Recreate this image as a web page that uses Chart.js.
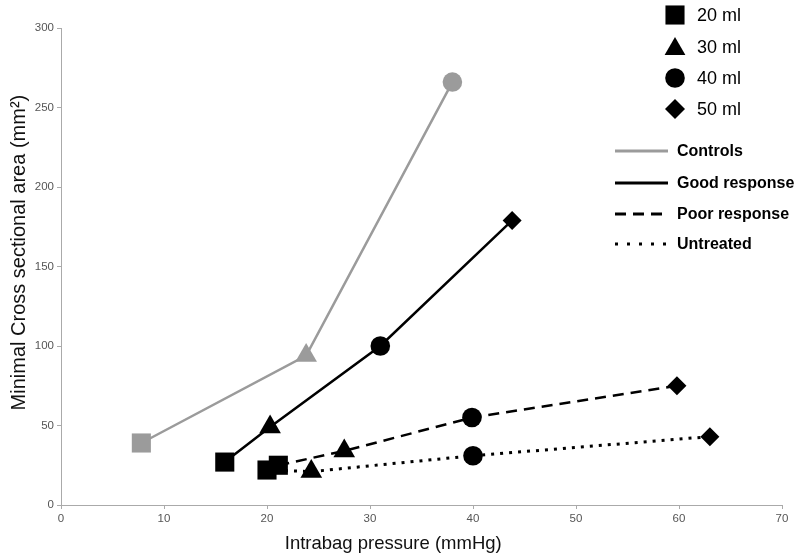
<!DOCTYPE html>
<html>
<head>
<meta charset="utf-8">
<script src="https://cdn.jsdelivr.net/npm/chart.js@4/dist/chart.umd.min.js"></script>
<style>
  body { margin: 0; background: #fff; }
  #wrap { width: 800px; height: 560px; }
</style>
</head>
<body>
<div id="wrap"><canvas id="myChart" width="800" height="560"></canvas></div>
<script>
// volumes (marker shapes) and groups (line styles)
let volumes = ['20 ml', '30 ml', '40 ml', '50 ml']
let markers = ['rect', 'triangle', 'circle', 'rectRot']
let markerSize = [13.5, 12.5, 9.8, 9.5]
let groups = ['Controls', 'Good response', 'Poor response', 'Untreated']

let controlsX = [7.8, 23.8, 38.0]
let controlsY = [39, 94, 266]
let goodX = [15.9, 20.3, 31.0, 43.8]
let goodY = [27, 49, 100, 179]
let poorX = [21.1, 27.5, 39.9, 59.8]
let poorY = [25, 34, 55, 75]
let untreatedX = [20.0, 24.3, 40.0, 63.0]
let untreatedY = [22, 21, 31, 43]

let xTicks = [0, 10, 20, 30, 40, 50, 60, 70]
let yTicks = [0, 50, 100, 150, 200, 250, 300]

const grey = '#9b9b9b'

function pts(xs, ys) {
    return xs.map((x, i) => ({x: x, y: ys[i]}))
}

function group(label, xs, ys, color, dash, width) {
    return {
        label: label,
        data: pts(xs, ys),
        showLine: true,
        borderColor: color,
        backgroundColor: color,
        borderWidth: width,
        borderDash: dash,
        pointStyle: markers.slice(0, xs.length),
        pointRadius: markerSize.slice(0, xs.length),
        pointHoverRadius: markerSize.slice(0, xs.length),
        pointBorderWidth: 0,
        pointBackgroundColor: color
    }
}

// legend drawn inside the plot, top right
const sideLegend = {
    id: 'sideLegend',
    afterDraw(chart) {
        const ctx = chart.ctx
        ctx.save()
        ctx.textBaseline = 'middle'
        ctx.textAlign = 'left'
        let shapeY = [15, 47, 78, 109]
        let legendSize = [13.5, 12, 9.8, 10]
        volumes.forEach((v, i) => {
            ctx.fillStyle = '#000'
            Chart.helpers.drawPoint(ctx, {pointStyle: markers[i], radius: legendSize[i], rotation: 0, borderWidth: 0}, 675, shapeY[i] + (i == 1 ? 2 : 0))
            ctx.font = '18px "Liberation Sans", Arial, sans-serif'
            ctx.fillText(v, 697, shapeY[i] + 1)
        })
        let lineY = [151, 183, 214, 244]
        let styles = [
            {c: grey, d: [], w: 3},
            {c: '#000', d: [], w: 3},
            {c: '#000', d: [11, 7], w: 3},
            {c: '#000', d: [3, 9], w: 3}
        ]
        groups.forEach((g, i) => {
            ctx.beginPath()
            ctx.strokeStyle = styles[i].c
            ctx.lineWidth = styles[i].w
            ctx.setLineDash(styles[i].d)
            ctx.moveTo(615, lineY[i])
            ctx.lineTo(668, lineY[i])
            ctx.stroke()
            ctx.setLineDash([])
            ctx.fillStyle = '#000'
            ctx.font = 'bold 16px "Liberation Sans", Arial, sans-serif'
            ctx.fillText(g, 677, lineY[i] + 1)
        })
        ctx.restore()
    }
}

var chart = new Chart('myChart', {
    type: 'scatter',
    data: {
        datasets: [
            group('Controls', controlsX, controlsY, grey, [], 2.5),
            group('Good response', goodX, goodY, '#000', [], 2.5),
            group('Poor response', poorX, poorY, '#000', [11, 7], 2.5),
            group('Untreated', untreatedX, untreatedY, '#000', [3, 6], 3)
        ]
    },
    options: {
        responsive: false,
        animation: false,
        layout: {padding: {top: 28, right: 18, left: 0, bottom: 0}},
        plugins: {
            legend: {display: false},
            tooltip: {enabled: false}
        },
        scales: {
            x: {
                type: 'linear',
                min: 0,
                max: 70,
                afterBuildTicks: (s) => { s.ticks = xTicks.map(v => ({value: v})) },
                afterFit: (s) => { s.height = 55 },
                grid: {drawOnChartArea: false, drawTicks: true, tickLength: 4, color: '#aaa'},
                border: {color: '#aaa'},
                ticks: {color: '#555', padding: 3, font: {size: 11.5, family: '"Liberation Sans Narrow", "Liberation Sans", Arial'}},
                // trailing spaces move the title left, as in the original
                title: {display: true, text: 'Intrabag pressure (mmHg)' + ' '.repeat(11), color: '#111',
                    padding: {top: 0, bottom: 5}, font: {size: 18.5, family: '"Liberation Sans", Arial'}}
            },
            y: {
                min: 0,
                max: 300,
                afterBuildTicks: (s) => { s.ticks = yTicks.map(v => ({value: v})) },
                afterFit: (s) => { s.width = 61 },
                grid: {drawOnChartArea: false, drawTicks: true, tickLength: 4, color: '#aaa'},
                border: {color: '#aaa'},
                ticks: {color: '#555', padding: 3, font: {size: 11.5, family: '"Liberation Sans Narrow", "Liberation Sans", Arial'}},
                title: {display: true, text: ' '.repeat(5) + 'Minimal Cross sectional area (mm\u00B2)', color: '#111',
                    padding: {top: 7, bottom: 0}, font: {size: 20, family: '"Liberation Sans", Arial'}}
            }
        }
    },
    plugins: [sideLegend]
})
</script>
</body>
</html>
